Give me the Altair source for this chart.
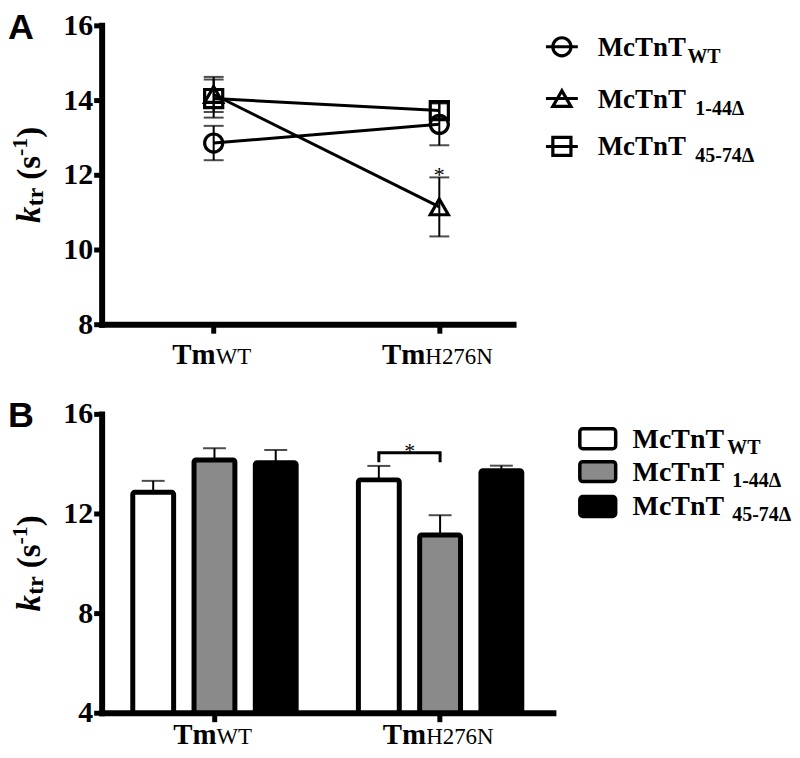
import altair as alt
import pandas as pd

# ---------------- data ----------------
group_keys = ["WT", "H276N"]          # Tm variants (x categories)
group_prefix = ["Tm", "Tm"]
series_keys = ["WT", "1-44Δ", "45-74Δ"]   # McTnT variants
wt_mean = [12.85, 13.35]
wt_sem = [0.46, 0.56]
d144_mean = [14.15, 11.14]
d144_sem = [0.47, 0.79]
d4574_mean = [14.04, 13.72]
d4574_sem = [0.51, 0.20]
yA_ticks = [8, 10, 12, 14, 16]
yB_ticks = [4, 8, 12, 16]
bracket_y = [14.12, 14.44]

means = [wt_mean, d144_mean, d4574_mean]
sems = [wt_sem, d144_sem, d4574_sem]
rows = []
for s, m, e in zip(series_keys, means, sems):
    for g, mv, ev in zip(group_keys, m, e):
        rows.append({"group": g, "series": s, "mean": mv, "sem": ev,
                     "lo": mv - ev, "hi": mv + ev})
df = pd.DataFrame(rows)

SERIF = "Liberation Serif"
SANS = "Liberation Sans"
shapes = ["circle", "triangle-up", "square"]
fills = ["white", "#8a8a8a", "black"]
x_label_dx = [2, -14]


def txt(s, x, y, size, weight="bold", style="normal", font=SERIF,
        align="left", angle=0):
    return alt.Chart(pd.DataFrame({"t": [s]})).mark_text(
        font=font, fontSize=size, fontWeight=weight, fontStyle=style,
        align=align, baseline="alphabetic", angle=angle, color="black"
    ).encode(text="t:N", x=alt.value(x), y=alt.value(y))


def ytitle(h):
    c = h / 2
    parts = [("k", 33, "italic", 48.5, -62), ("tr", 24, "normal", 31.5, -59),
             ("(s", 33, "normal", 5, -62), ("-1", 22, "normal", -18.8, -75),
             (")", 33, "normal", -37.1, -62)]
    return [txt(t, x, c + dy, sz, style=st, angle=270) for t, sz, st, dy, x in parts]


# ---------------- panel A ----------------
WA, HA = 413, 300
xA = alt.X("group:N", scale=alt.Scale(type="point", domain=group_keys,
                                      padding=0.4117, align=0.603),
           axis=alt.Axis(labels=False, title=None, tickSize=9))


def yA(field):
    return alt.Y(f"{field}:Q", scale=alt.Scale(domain=[8, 16], zero=False),
                 axis=alt.Axis(values=yA_ticks, title=None))


baseA = alt.Chart(df)
layersA = [
    baseA.mark_line(color="black", strokeWidth=3).encode(x=xA, y=yA("mean"), detail="series:N"),
    baseA.mark_rule(color="black", strokeWidth=2).encode(x=xA, y=yA("lo"), y2="hi:Q"),
    baseA.transform_fold(["lo", "hi"], as_=["k", "v"]).mark_tick(
        color="black", size=20, thickness=2).encode(x=xA, y=yA("v")),
    baseA.mark_point(filled=False, color="black", strokeWidth=3.2, size=330, opacity=1).encode(
        x=xA, y=yA("mean"),
        shape=alt.Shape("series:N", scale=alt.Scale(domain=series_keys, range=shapes), legend=None)),
    baseA.transform_filter((alt.datum.group == "H276N") & (alt.datum.series == "1-44Δ")).mark_text(
        text="*", font=SERIF, fontSize=22, baseline="alphabetic", dy=5, color="black").encode(
        x=xA, y=yA("hi")),
]
for g, p, dx in zip(group_keys, group_prefix, x_label_dx):
    gd = alt.Chart(pd.DataFrame({"group": [g]}))
    layersA.append(gd.mark_text(text=p, font=SERIF, fontSize=29, fontWeight="bold", align="right",
                                baseline="alphabetic", dx=dx, color="black").encode(x=xA, y=alt.value(HA + 39.5)))
    layersA.append(gd.mark_text(text=g, font=SERIF, fontSize=23, fontWeight="normal", align="left",
                                baseline="alphabetic", dx=dx, color="black").encode(x=xA, y=alt.value(HA + 39.5)))
legA_y = [21.5, 73.5, 121.5]
legA_subx = [588, 596, 596]
for s, shp, ly, sx in zip(series_keys, shapes, legA_y, legA_subx):
    one = alt.Chart(pd.DataFrame({"series": [s]}))
    layersA.append(one.mark_rule(color="black", strokeWidth=3).encode(
        x=alt.value(446), x2=alt.value(478), y=alt.value(ly)))
    layersA.append(one.mark_point(filled=False, color="black", strokeWidth=3.2, size=330, opacity=1,
                                  shape=shp).encode(x=alt.value(462), y=alt.value(ly)))
    layersA.append(txt("McTnT", 498, ly + 9, 27))
    layersA.append(txt(s, sx, ly + 16, 20))
layersA += ytitle(HA)
layersA.append(txt("A", -94, 13.3, 36, font=SANS))
panelA = alt.layer(*layersA).properties(width=WA, height=HA)

# ---------------- panel B ----------------
WB, HB = 453, 300
xB = alt.X("group:N", scale=alt.Scale(type="band", domain=group_keys, paddingInner=0, paddingOuter=0),
           axis=alt.Axis(labels=False, title=None, tickSize=9))
xoB = alt.XOffset("series:N", scale=alt.Scale(domain=series_keys, paddingInner=0.333, paddingOuter=0.508))


def yB(field):
    return alt.Y(f"{field}:Q", scale=alt.Scale(domain=[4, 16], zero=False),
                 axis=alt.Axis(values=yB_ticks, title=None))


baseB = alt.Chart(df)
bracket_df = pd.DataFrame({"group": ["H276N"] * 4,
                           "series": ["WT", "WT", "1-44Δ", "1-44Δ"],
                           "y": [bracket_y[0], bracket_y[1], bracket_y[1], bracket_y[0]],
                           "o": [0, 1, 2, 3]})
layersB = [
    baseB.mark_rule(color="black", strokeWidth=2).encode(x=xB, xOffset=xoB, y=yB("mean"), y2="hi:Q"),
    baseB.mark_bar(stroke="black", strokeWidth=5, cornerRadius=2).encode(
        x=xB, xOffset=xoB, y=yB("mean"), y2=alt.datum(4),
        fill=alt.Fill("series:N", scale=alt.Scale(domain=series_keys, range=fills), legend=None)),
    baseB.mark_tick(color="black", size=23, thickness=2).encode(x=xB, xOffset=xoB, y=yB("hi")),
    alt.Chart(bracket_df).mark_line(color="black", strokeWidth=3, strokeCap="square",
                                    strokeJoin="miter").encode(
        x=xB, xOffset=xoB, y=yB("y"), order="o:Q"),
    alt.Chart(bracket_df.iloc[[1]]).mark_text(text="*", font=SERIF, fontSize=22, baseline="alphabetic",
                                             dx=31, dy=5, color="black").encode(
        x=xB, xOffset=xoB, y=yB("y")),
]
for g, p, dx in zip(group_keys, group_prefix, x_label_dx):
    gd = alt.Chart(pd.DataFrame({"group": [g]}))
    layersB.append(gd.mark_text(text=p, font=SERIF, fontSize=29, fontWeight="bold", align="right",
                                baseline="alphabetic", dx=dx, color="black").encode(x=xB, y=alt.value(HB + 31)))
    layersB.append(gd.mark_text(text=g, font=SERIF, fontSize=23, fontWeight="normal", align="left",
                                baseline="alphabetic", dx=dx, color="black").encode(x=xB, y=alt.value(HB + 31)))
legB_y = [25, 58, 93]
legB_subx = [628, 633, 633]
for s, f, ly, sx in zip(series_keys, fills, legB_y, legB_subx):
    one = alt.Chart(pd.DataFrame({"series": [s]}))
    layersB.append(one.mark_rect(fill=f, stroke="black", strokeWidth=3.5, cornerRadius=3).encode(
        x=alt.value(480), x2=alt.value(516), y=alt.value(ly - 10), y2=alt.value(ly + 10)))
    layersB.append(txt("McTnT", 533, ly + 9, 28))
    layersB.append(txt(s, sx, ly + 15, 20))
layersB += ytitle(HB)
layersB.append(txt("B", -94, 13.3, 36, font=SANS))
panelB = alt.layer(*layersB).properties(width=WB, height=HB)

chart = alt.vconcat(panelA, panelB, spacing=28).properties(padding=0).configure_view(
    stroke=None
).configure_axis(
    grid=False, domainColor="black", domainWidth=6, domainCap="square",
    tickColor="black", tickWidth=5, tickSize=8,
    labelFont=SERIF, labelFontSize=30, labelFontWeight="bold", labelColor="black",
    labelPadding=1
)

chart.save("out.html", embed_options={"renderer": "svg", "actions": False})
